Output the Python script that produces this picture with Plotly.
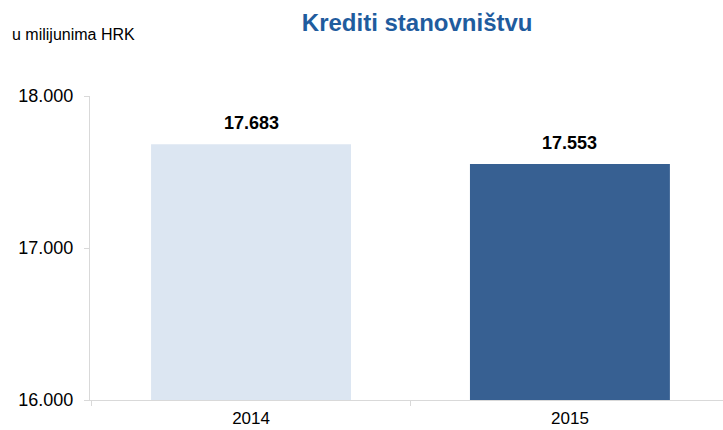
import plotly.graph_objects as go

categories = ["2014", "2015"]
values = [17683, 17553]
bar_colors = ["#dce6f2", "#376092"]
y_ticks = [16000, 17000, 18000]

FONT = "Liberation Sans, Arial, sans-serif"

fig = go.Figure()
fig.add_trace(go.Bar(
    x=categories, y=values,
    marker=dict(color=bar_colors, line=dict(width=0)),
    width=0.627,
    hoverinfo="skip",
))

for i, v in enumerate(values):
    fig.add_annotation(
        x=i, y=v, text="<b>{:,.0f}</b>".format(v).replace(",", "."),
        showarrow=False, yanchor="bottom", yshift=9,
        font=dict(family=FONT, size=18, color="#000000"),
    )

fig.add_annotation(
    xref="paper", yref="paper", x=-0.126, y=1.0, xanchor="left", yanchor="middle",
    yshift=62, text="u milijunima HRK", showarrow=False,
    font=dict(family=FONT, size=16, color="#000000"),
)

fig.update_layout(
    width=723, height=430,
    margin=dict(l=90, r=0, t=96, b=30),
    paper_bgcolor="white", plot_bgcolor="white",
    separators=",.",
    showlegend=False,
    title=dict(
        text="<b>Krediti stanovništvu</b>",
        x=0.577, xanchor="center", y=0.947, yanchor="middle",
        font=dict(family=FONT, size=24, color="#1f5c9e"),
    ),
    font=dict(family=FONT, size=18, color="#000000"),
)

fig.update_yaxes(
    range=[16000, 18000], tickvals=y_ticks, tickformat=",.0f",
    showgrid=False, zeroline=False, automargin=False,
    showline=True, linecolor="#d9d9d9", linewidth=1,
    ticks="outside", ticklen=5, tickcolor="#d9d9d9",
    ticklabelstandoff=7,
)
fig.update_xaxes(
    type="category", tickangle=0, range=[-0.505, 1.48],
    showgrid=False, zeroline=False, automargin=False,
    showline=True, linecolor="#d9d9d9", linewidth=1,
    ticks="outside", ticklen=5, tickcolor="#d9d9d9",
    tickson="boundaries", ticklabelstandoff=3,
    tickfont=dict(size=17),
)

fig.write_html("out.html", post_script="document.body.style.margin='0';",
               config={"displayModeBar": False})
